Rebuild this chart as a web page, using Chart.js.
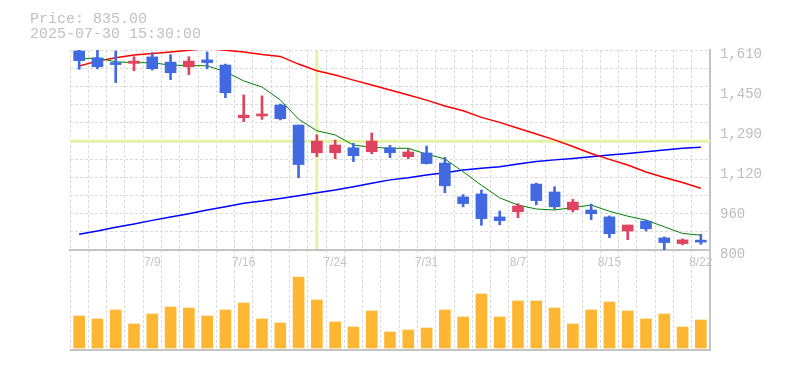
<!DOCTYPE html>
<html>
<head>
<meta charset="utf-8">
<script src="https://cdn.jsdelivr.net/npm/chart.js@4"></script>
<style>
html,body{margin:0;padding:0;background:#ffffff;}
#wrap{width:785px;height:370px;}
</style>
</head>
<body>
<div id="wrap"><canvas id="c" width="785" height="370"></canvas></div>
<script>
const dates = ['7/3','7/4','7/7','7/8','7/9','7/10','7/11','7/14','7/15','7/16','7/17','7/18','7/22','7/23','7/24','7/25','7/28','7/29','7/30','7/31','8/1','8/4','8/5','8/6','8/7','8/8','8/12','8/13','8/14','8/15','8/18','8/19','8/20','8/21','8/22'];
const shownDates = ['7/9','7/16','7/24','7/31','8/7','8/15','8/22'];

const opens  = [1606,1578,1559,1556,1582,1561,1542,1570,1549,1336,1343,1387,1306,1194,1194,1214,1198,1214,1178,1193,1152,1015,1027,934,955,1067,1035,963,962,934,877,917,849,826,840];
const highs  = [1612,1610,1606,1583,1599,1591,1583,1602,1553,1428,1424,1391,1306,1266,1245,1232,1274,1224,1208,1221,1175,1024,1043,958,988,1071,1056,1005,986,938,901,921,853,845,864];
const lows   = [1532,1534,1478,1526,1529,1490,1510,1534,1417,1320,1329,1327,1093,1178,1170,1158,1190,1174,1170,1148,1032,975,900,902,931,983,966,954,923,850,842,877,801,821,823];
const closes = [1567,1542,1551,1565,1534,1518,1565,1559,1437,1346,1351,1332,1146,1241,1225,1182,1241,1194,1197,1150,1060,988,927,919,978,1000,975,994,947,866,901,886,830,841,832];
const volumes = [320,290,380,240,340,410,400,320,380,450,290,250,710,480,260,210,370,160,180,200,380,310,540,310,470,470,400,240,380,460,370,290,340,210,280];

const ma5  = [1573,1578,1562,1559,1558,1549,1547,1546,1522,1485,1460,1408,1330,1283,1266,1225,1216,1212,1212,1188,1169,1117,1062,1011,982,966,962,972,982,957,937,921,894,867,860];
const ma25 = [1545,1565,1579,1590,1596,1602,1609,1616,1609,1602,1592,1584,1553,1526,1509,1488,1468,1448,1428,1407,1383,1364,1337,1317,1293,1270,1246,1219,1191,1167,1144,1116,1094,1073,1050];
const ma75 = [864,877,892,905,920,934,947,962,975,989,998,1009,1020,1032,1043,1056,1070,1084,1093,1104,1113,1124,1131,1137,1148,1158,1165,1171,1178,1185,1191,1198,1205,1212,1216];

const priceTicks = [800,962,1124,1286,1448,1610];
const priceLabel = 'Price: 835.00';
const timeLabel = '2025-07-30 15:30:00';
const crossDate = '7/23';
const crossPrice = 1240;

const UP = '#e0435f';
const DOWN = '#4169e1';
const candleColors = opens.map((o, i) => closes[i] >= o ? UP : DOWN);

const headerPlugin = {
  id: 'header',
  afterDraw(chart) {
    const ctx = chart.ctx;
    ctx.save();
    ctx.fillStyle = '#c0c0c0';
    ctx.font = '15px "Liberation Mono", "DejaVu Sans Mono", monospace';
    ctx.textBaseline = 'alphabetic';
    ctx.textAlign = 'left';
    ctx.fillText(priceLabel, 30, 22.5);
    ctx.fillText(timeLabel, 30, 37.5);
    ctx.restore();
  }
};

const crossPlugin = {
  id: 'cross',
  beforeDatasetsDraw(chart) {
    const ctx = chart.ctx;
    const xs = chart.scales.x, ys = chart.scales.y;
    const x = xs.getPixelForValue(dates.indexOf(crossDate));
    const y = ys.getPixelForValue(crossPrice);
    ctx.save();
    ctx.strokeStyle = '#e2f3a5';
    ctx.lineWidth = 3;
    ctx.beginPath();
    ctx.moveTo(x, ys.top + 1);
    ctx.lineTo(x, ys.bottom - 1);
    ctx.moveTo(chart.chartArea.left, y);
    ctx.lineTo(chart.chartArea.right, y);
    ctx.stroke();
    ctx.restore();
  }
};

new Chart(document.getElementById('c'), {
  type: 'bar',
  data: {
    labels: dates,
    datasets: [
      { type: 'bar', label: 'body', data: opens.map((o, i) => [o, closes[i]]),
        backgroundColor: candleColors, borderWidth: 0, barThickness: 11, grouped: false,
        xAxisID: 'x', yAxisID: 'y', order: 0 },
      { type: 'bar', label: 'wick', data: lows.map((l, i) => [l, highs[i]]),
        backgroundColor: candleColors, borderWidth: 0, barThickness: 2, grouped: false,
        xAxisID: 'x', yAxisID: 'y', order: 1 },
      { type: 'line', label: 'MA5', data: ma5, borderColor: '#008000', borderWidth: 1,
        pointRadius: 0, tension: 0, fill: false, xAxisID: 'x', yAxisID: 'y', order: 2 },
      { type: 'line', label: 'MA25', data: ma25, borderColor: '#ff0000', borderWidth: 1.5,
        pointRadius: 0, tension: 0, fill: false, xAxisID: 'x', yAxisID: 'y', order: 2 },
      { type: 'line', label: 'MA75', data: ma75, borderColor: '#0000ff', borderWidth: 1.5,
        pointRadius: 0, tension: 0, fill: false, xAxisID: 'x', yAxisID: 'y', order: 2 },
      { type: 'bar', label: 'volume', data: volumes, backgroundColor: '#ffb733', borderWidth: 0,
        barThickness: 11, grouped: false, xAxisID: 'x', yAxisID: 'vol', order: 3 }
    ]
  },
  options: {
    responsive: false,
    animation: false,
    events: [],
    layout: { padding: { left: 70, top: 50, right: 0, bottom: 20 } },
    plugins: { legend: { display: false }, tooltip: { enabled: false }, title: { display: false } },
    scales: {
      x: {
        type: 'category',
        offset: true,
        position: { vol: 980 },
        grid: { offset: true, color: '#dadada', lineWidth: 1, drawTicks: false },
        border: { display: true, color: '#c4c4c4', width: 2, dash: [3, 2] },
        ticks: {
          autoSkip: false, maxRotation: 0, minRotation: 0, padding: 5,
          color: '#c4c4c4',
          font: { family: '"Liberation Sans", Arial, sans-serif', size: 12 },
          callback: function (v, i) { const l = dates[i]; return shownDates.includes(l) ? l : ''; }
        }
      },
      y: {
        position: 'right', stack: 'main', stackWeight: 2,
        min: 800, max: 1610,
        grid: { display: false, drawTicks: false },
        border: { display: true, color: '#c4c4c4', width: 2 },
        ticks: {
          padding: 10, labelOffset: 4, color: '#bdbdbd',
          font: { family: '"Liberation Mono", "DejaVu Sans Mono", monospace', size: 14 },
          callback: v => (Math.round(v / 10) * 10).toLocaleString('en-US')
        },
        afterBuildTicks: s => { s.ticks = priceTicks.map(v => ({ value: v })); },
        afterFit: s => { s.width = 75; }
      },
      vol: {
        position: 'right', stack: 'main', stackWeight: 1,
        min: -20, max: 980,
        grid: { display: true, drawTicks: false, color: '#c4c4c4', lineWidth: 2 },
        border: { display: true, color: '#c4c4c4', width: 2 },
        ticks: { display: false },
        afterBuildTicks: s => { s.ticks = [{ value: -20 }]; },
        afterFit: s => { s.width = 75; }
      },
      gy: {
        position: 'left',
        min: -5.5, max: 11,
        grid: { color: '#dadada', lineWidth: 1, drawTicks: false },
        border: { display: false, dash: [3, 2] },
        ticks: { display: false },
        afterBuildTicks: s => { s.ticks = [1,2,3,4,5,6,7,8,9,10,11].map(v => ({ value: v })); },
        afterFit: s => { s.width = 0; }
      }
    }
  },
  plugins: [crossPlugin, headerPlugin]
});
</script>
</body>
</html>
